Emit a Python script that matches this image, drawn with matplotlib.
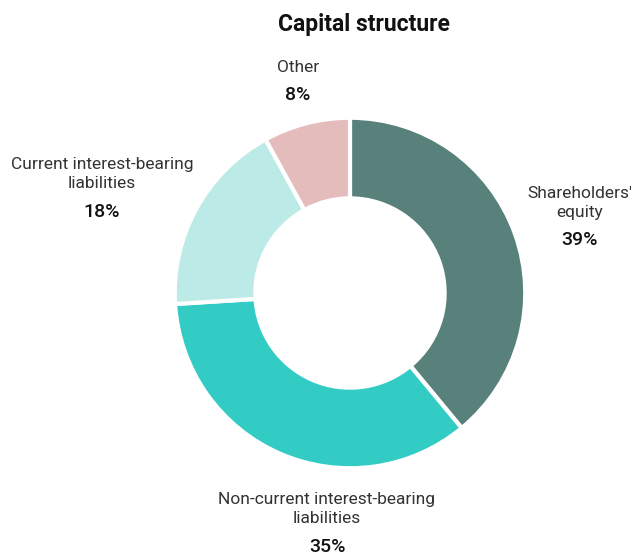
import matplotlib.pyplot as plt
from matplotlib import font_manager

# capital structure breakdown, clockwise from 12 o'clock
categories = ["Shareholders'\nequity", 'Non-current interest-bearing\nliabilities',
              'Current interest-bearing\nliabilities', 'Other']
shares = [39, 35, 18, 8]
colors = ['#58817c', '#33ccc5', '#bceae6', '#e5bcbc']

W, H = 643, 558
names = {f.name for f in font_manager.fontManager.ttflist}
family = 'Liberation Sans Narrow' if 'Liberation Sans Narrow' in names else 'Roboto'
plt.rcParams['font.family'] = [family, 'DejaVu Sans']


def px(x, y):
    return x / W, 1 - y / H


def main():
    fig = plt.figure(figsize=(W / 100, H / 100), dpi=100)
    cx, cy, r = 350, 293, 177
    ax = fig.add_axes([(cx - r) / W, (H - cy - r) / H, 2 * r / W, 2 * r / H])
    ax.pie(shares, colors=colors, startangle=90, counterclock=False,
           radius=1, wedgeprops=dict(width=0.46, edgecolor='white', linewidth=3))
    ax.set_xlim(-1.01, 1.01)
    ax.set_ylim(-1.01, 1.01)
    ax.set_aspect('equal')
    ax.axis('off')

    fig.text(*px(364, 24), 'Capital structure', ha='center', va='center',
             fontsize=16.5, fontweight='bold', color='#111111')

    # label anchors: (x, name y, percent y)
    spots = [(580, 203, 240), (327, 509, 547), (102, 174, 212), (298, 68, 95)]
    for name, val, (x, ny, vy) in zip(categories, shares, spots):
        fig.text(*px(x, ny), name, ha='center', va='center', fontsize=12.5,
                 color='#333333', linespacing=1.3)
        fig.text(*px(x, vy), f'{val}%', ha='center', va='center', fontsize=14,
                 fontweight='medium', color='#111111')

    fig.savefig('out.png', dpi=100)
    plt.close(fig)


if __name__ == '__main__':
    main()
